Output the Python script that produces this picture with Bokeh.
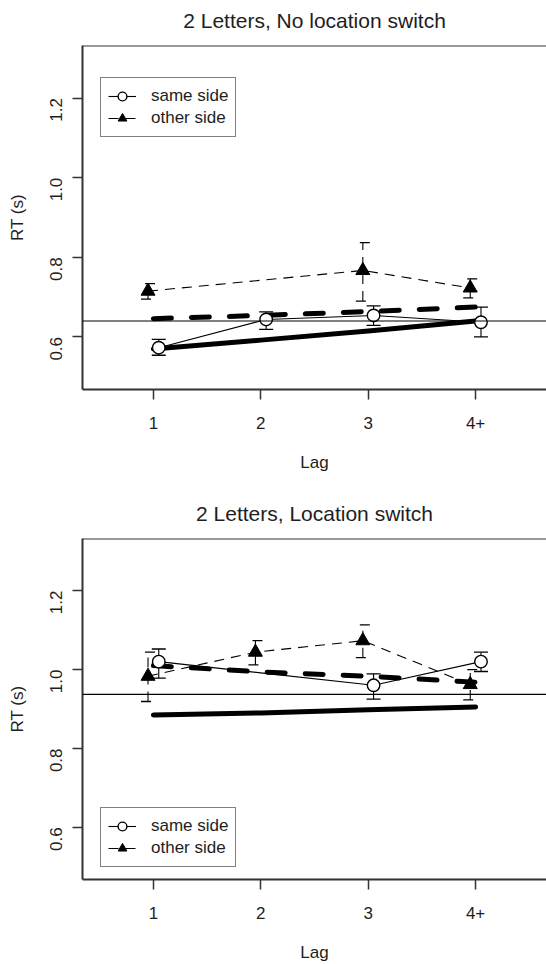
import math
from bokeh.plotting import figure
from bokeh.models import (Range1d, FixedTicker, Span, Whisker, TeeHead,
                          ColumnDataSource, Legend, LegendItem)
from bokeh.layouts import column
from bokeh.embed import file_html
from bokeh.resources import INLINE

nan = float("nan")

# ---------------- data ----------------
lags = [1, 2, 3, 4]
lag_labels = ["1", "2", "3", "4+"]
y_ticks = [0.6, 0.8, 1.0, 1.2]

# Panel 1: 2 Letters, No location switch
nosw_same = [0.573, 0.644, 0.654, 0.637]
nosw_same_lo = [0.554, 0.619, 0.629, 0.600]
nosw_same_hi = [0.594, 0.663, 0.678, 0.675]
nosw_other = [0.715, nan, 0.767, 0.723]
nosw_other_lo = [0.695, nan, 0.690, 0.698]
nosw_other_hi = [0.734, nan, 0.837, 0.746]
nosw_model_same = [0.570, 0.592, 0.615, 0.640]    # thick solid
nosw_model_other = [0.646, 0.654, 0.664, 0.675]   # thick dashed
nosw_baseline = 0.640

# Panel 2: 2 Letters, Location switch
sw_same = [1.020, nan, 0.960, 1.020]
sw_same_lo = [0.978, nan, 0.925, 0.995]
sw_same_hi = [1.052, nan, 0.989, 1.044]
sw_other = [0.983, 1.044, 1.073, 0.962]
sw_other_lo = [0.919, 1.012, 1.030, 0.923]
sw_other_hi = [1.044, 1.073, 1.113, 1.000]
sw_model_same = [0.885, 0.890, 0.898, 0.905]
sw_model_other = [1.010, 0.994, 0.983, 0.968]
sw_baseline = 0.937

FONT = "Liberation Sans"
TXT = "#1e1e1e"
FRAME = "#333333"


def valid(xs, *cols):
    keep = [i for i in range(len(xs)) if all(not math.isnan(c[i]) for c in cols)]
    return keep


def make_panel(title, same, same_lo, same_hi, other, other_lo, other_hi,
               model_same, model_other, baseline, height, border_top,
               border_bottom, legend_y):
    p = figure(width=546, height=height,
               x_range=Range1d(0.34, 4.66), y_range=Range1d(0.468, 1.332),
               output_backend="svg", toolbar_location=None,
               min_border_left=82, min_border_right=0,
               min_border_top=border_top, min_border_bottom=border_bottom,
               background_fill_color="white", border_fill_color="white")
    p.outline_line_color = None
    p.grid.visible = False

    p.title.text = title
    p.title.align = "center"
    p.title.text_font = FONT
    p.title.text_font_size = "21px"
    p.title.text_font_style = "normal"
    p.title.text_color = TXT
    p.title.standoff = 27

    # axes
    xa = p.xaxis[0]
    xa.ticker = FixedTicker(ticks=lags)
    xa.major_label_overrides = {l: s for l, s in zip(lags, lag_labels)}
    ya = p.yaxis[0]
    ya.ticker = FixedTicker(ticks=y_ticks)
    ya.major_label_overrides = {v: f"{v:.1f}" for v in y_ticks}
    ya.major_label_orientation = math.pi / 2
    for ax in (xa, ya):
        ax.axis_line_color = FRAME
        ax.axis_line_width = 2
        ax.major_tick_line_color = FRAME
        ax.major_tick_line_width = 1.5
        ax.major_tick_out = 10
        ax.major_tick_in = 0
        ax.minor_tick_line_color = None
        ax.major_label_text_font = FONT
        ax.major_label_text_font_size = "17px"
        ax.major_label_text_color = TXT
        ax.axis_label_text_font = FONT
        ax.axis_label_text_font_size = "17px"
        ax.axis_label_text_font_style = "normal"
        ax.axis_label_text_color = TXT
    xa.axis_label = "Lag"
    xa.major_label_standoff = 17
    xa.axis_label_standoff = 21
    ya.axis_label = "RT (s)"
    ya.major_label_standoff = 16
    ya.axis_label_standoff = 15

    # top frame line
    p.add_layout(Span(location=1.332, dimension="width", line_color=FRAME,
                      line_width=2))
    # baseline
    p.add_layout(Span(location=baseline, dimension="width",
                      line_color="black", line_width=1.2))

    # model lines (thick)
    p.line(lags, model_same, line_color="black", line_width=5,
           line_cap="round", line_join="round")
    p.line(lags, model_other, line_color="black", line_width=5,
           line_dash="18 20", line_cap="round")

    # same side (offset right) / other side (offset left)
    ks = valid(lags, same)
    xs_same = [lags[i] + 0.05 for i in ks]
    ys_same = [same[i] for i in ks]
    ko = valid(lags, other)
    xs_other = [lags[i] - 0.05 for i in ko]
    ys_other = [other[i] for i in ko]

    l_same = p.line(xs_same, ys_same, line_color="black", line_width=1.1)
    l_other = p.line(xs_other, ys_other, line_color="black", line_width=1.1,
                     line_dash="10 7")

    kse = valid(lags, same_lo, same_hi)
    src_se = ColumnDataSource(dict(x=[lags[i] + 0.05 for i in kse],
                                   lo=[same_lo[i] for i in kse],
                                   hi=[same_hi[i] for i in kse]))
    p.add_layout(Whisker(source=src_se, base="x", lower="lo", upper="hi",
                         line_color="black", line_width=1.1,
                         upper_head=TeeHead(size=14, line_width=1.3, line_color="black"),
                         lower_head=TeeHead(size=14, line_width=1.3, line_color="black")))
    koe = valid(lags, other_lo, other_hi)
    src_oe = ColumnDataSource(dict(x=[lags[i] - 0.05 for i in koe],
                                   lo=[other_lo[i] for i in koe],
                                   hi=[other_hi[i] for i in koe]))
    p.add_layout(Whisker(source=src_oe, base="x", lower="lo", upper="hi",
                         line_color="black", line_width=1.1, line_dash="10 7",
                         upper_head=TeeHead(size=14, line_width=1.3, line_color="black",
                                            line_dash="10 7"),
                         lower_head=TeeHead(size=14, line_width=1.3, line_color="black",
                                            line_dash="10 7")))

    s_same = p.scatter(xs_same, ys_same, marker="circle", size=12.5,
                       fill_color="white", line_color="black", line_width=1.4)
    s_other = p.scatter(xs_other, ys_other, marker="triangle", size=14,
                        fill_color="black", line_color="black", line_width=1)

    legend = Legend(items=[LegendItem(label="same side", renderers=[l_same, s_same]),
                           LegendItem(label="other side", renderers=[l_other, s_other])],
                    location=(18, legend_y), padding=7, spacing=0, margin=0,
                    glyph_width=28, glyph_height=22, label_height=22,
                    label_standoff=15, label_text_font=FONT,
                    label_text_font_size="17px", label_text_color=TXT,
                    border_line_color="black", border_line_width=1.5,
                    background_fill_color="white", background_fill_alpha=1.0)
    p.add_layout(legend)
    return p


p1 = make_panel("2 Letters, No location switch", nosw_same, nosw_same_lo,
                nosw_same_hi, nosw_other, nosw_other_lo, nosw_other_hi,
                nosw_model_same, nosw_model_other, nosw_baseline,
                height=490, border_top=53, border_bottom=93, legend_y=252)
p1.margin = (-8, 0, 0, 0)
p2 = make_panel("2 Letters, Location switch", sw_same, sw_same_lo,
                sw_same_hi, sw_other, sw_other_lo, sw_other_hi,
                sw_model_same, sw_model_other, sw_baseline,
                height=482, border_top=56, border_bottom=80, legend_y=12)

layout = column(p1, p2, spacing=0)
open("out.html", "w").write(file_html(layout, INLINE))
